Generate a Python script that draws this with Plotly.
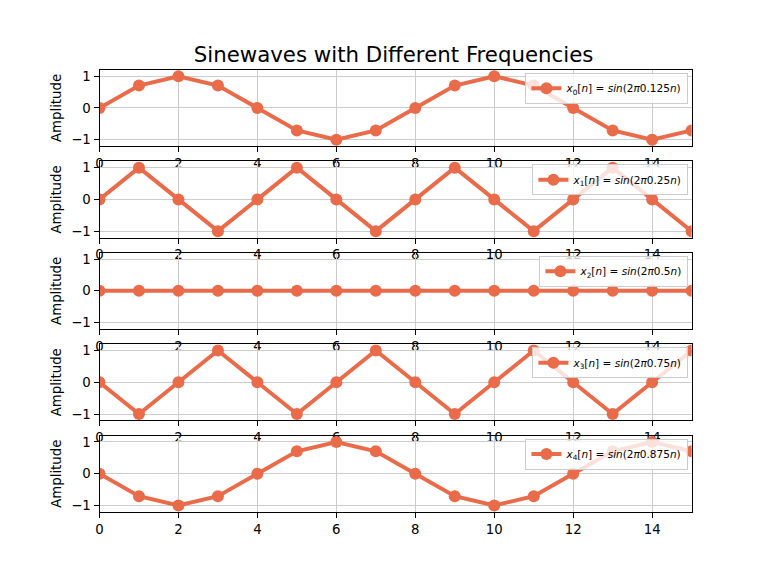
import plotly.graph_objects as go

n = list(range(16))
freqs = ["0.125", "0.25", "0.5", "0.75", "0.875"]
x0 = [0, 0.707, 1, 0.707, 0, -0.707, -1, -0.707, 0, 0.707, 1, 0.707, 0, -0.707, -1, -0.707]
x1 = [0, 1, 0, -1, 0, 1, 0, -1, 0, 1, 0, -1, 0, 1, 0, -1]
x2 = [0, 0, 0, 0, 0, 0, 0, 0, 0, 0, 0, 0, 0, 0, 0, 0]
x3 = [0, -1, 0, 1, 0, -1, 0, 1, 0, -1, 0, 1, 0, -1, 0, 1]
x4 = [0, -0.707, -1, -0.707, 0, 0.707, 1, 0.707, 0, -0.707, -1, -0.707, 0, 0.707, 1, 0.707]
series = [x0, x1, x2, x3, x4]
xticks = [0, 2, 4, 6, 8, 10, 12, 14]
yticks = [-1, 0, 1]
title = "Sinewaves with Different Frequencies"

W, H = 768, 576
color = "#E96B4A"
FONT = "DejaVu Sans"

left_px, right_px = 96.0, 691.2
top_px, bottom_px = 69.1, 512.6
ph = (bottom_px - top_px) / (5 + 4 * 0.2)
gap = 0.2 * ph

fig = go.Figure()
layout = dict(
    width=W, height=H,
    margin=dict(l=0, r=0, t=0, b=0),
    paper_bgcolor="white", plot_bgcolor="white",
    font=dict(family=FONT, size=13.3, color="black"),
    showlegend=True,
)

for i, (ys, f) in enumerate(zip(series, freqs)):
    sfx = "" if i == 0 else str(i + 1)
    t = top_px + i * (ph + gap)
    b = t + ph
    name = f"<i>x</i><sub>{i}</sub>[<i>n</i>] = <i>sin</i>(2<i>π</i>{f}<i>n</i>)"
    leg = "legend" if i == 0 else f"legend{i + 1}"
    fig.add_trace(go.Scatter(
        x=n, y=ys, mode="lines+markers", name=name,
        line=dict(color=color, width=4),
        marker=dict(color=color, size=12),
        xaxis="x" + sfx, yaxis="y" + sfx, legend=leg,
    ))
    axcommon = dict(
        showline=True, mirror=True, linecolor="black", linewidth=1,
        ticks="outside", ticklen=5, tickcolor="black", tickwidth=1,
        showgrid=True, gridcolor="#cccccc", gridwidth=1, zeroline=False,
        tickfont=dict(family=FONT, size=13.3, color="black"),
    )
    layout["xaxis" + sfx] = dict(
        domain=[left_px / W, right_px / W], range=[0, 15],
        tickvals=xticks, anchor="y" + sfx, **axcommon,
    )
    layout["yaxis" + sfx] = dict(
        domain=[1 - b / H, 1 - t / H], range=[-1.2, 1.2],
        tickvals=yticks, ticktext=["\u22121", "0", "1"], anchor="x" + sfx,
        title=dict(text="Amplitude", font=dict(family=FONT, size=13.3), standoff=6),
        **axcommon,
    )
    layout[leg] = dict(
        x=688 / W, xanchor="right", y=1 - (t + 3) / H, yanchor="top",
        bgcolor="rgba(255,255,255,0.8)", bordercolor="#cccccc", borderwidth=1,
        font=dict(family=FONT, size=10.5, color="black"),
        itemwidth=30, tracegroupgap=0,
    )

layout["title"] = dict(
    text=title, x=(left_px + right_px) / 2 / W, xanchor="center",
    y=1 - 55 / H, yanchor="middle",
    font=dict(family=FONT, size=21.3, color="black"),
)
fig.update_layout(**layout)
fig.write_html("out.html", config={"displayModeBar": False},
               post_script="document.body.style.margin='0px';")
